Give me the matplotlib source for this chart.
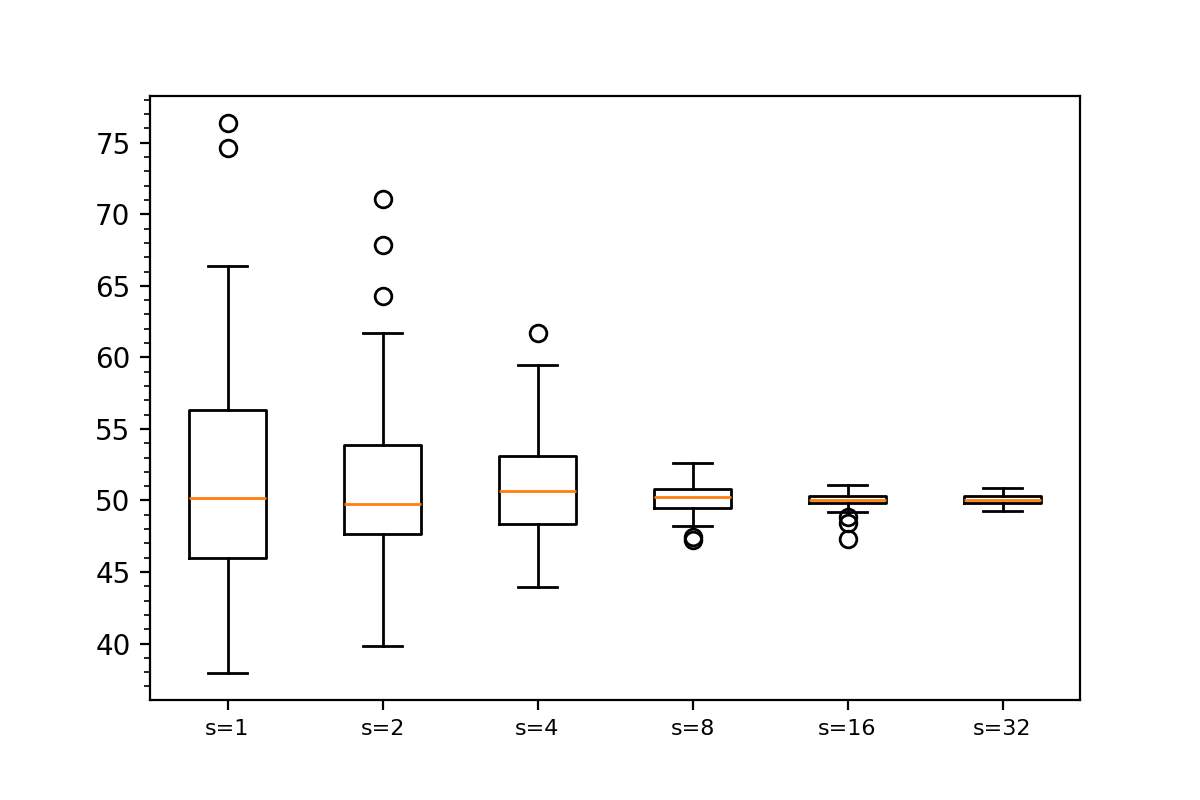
import matplotlib
matplotlib.use("Agg")
import matplotlib.pyplot as plt
from matplotlib.ticker import MultipleLocator

# box statistics
labels = ["s=1", "s=2", "s=4", "s=8", "s=16", "s=32"]
whislo = [37.97, 39.80, 43.93, 48.21, 49.17, 49.29]
q1 = [45.97, 47.65, 48.35, 49.50, 49.80, 49.80]
med = [50.20, 49.76, 50.67, 50.22, 50.04, 50.04]
q3 = [56.30, 53.89, 53.12, 50.80, 50.32, 50.28]
whishi = [66.40, 61.70, 59.50, 52.65, 51.09, 50.90]
fliers = [
    [76.35, 74.60],
    [71.10, 67.85, 64.30],
    [61.70],
    [47.45, 47.22],
    [48.85, 48.45, 47.28],
    [],
]


def main():
    stats = []
    for i in range(len(labels)):
        stats.append({
            "label": labels[i],
            "whislo": whislo[i],
            "q1": q1[i],
            "med": med[i],
            "q3": q3[i],
            "whishi": whishi[i],
            "fliers": fliers[i],
        })

    fig = plt.figure(figsize=(6, 4), dpi=200)
    ax = fig.add_axes([0.125, 0.125, 0.775, 0.755])
    ax.bxp(stats)
    ax.yaxis.set_minor_locator(MultipleLocator(1))
    ax.tick_params(axis="x", labelsize=8)
    fig.savefig("out.png")


if __name__ == "__main__":
    main()
